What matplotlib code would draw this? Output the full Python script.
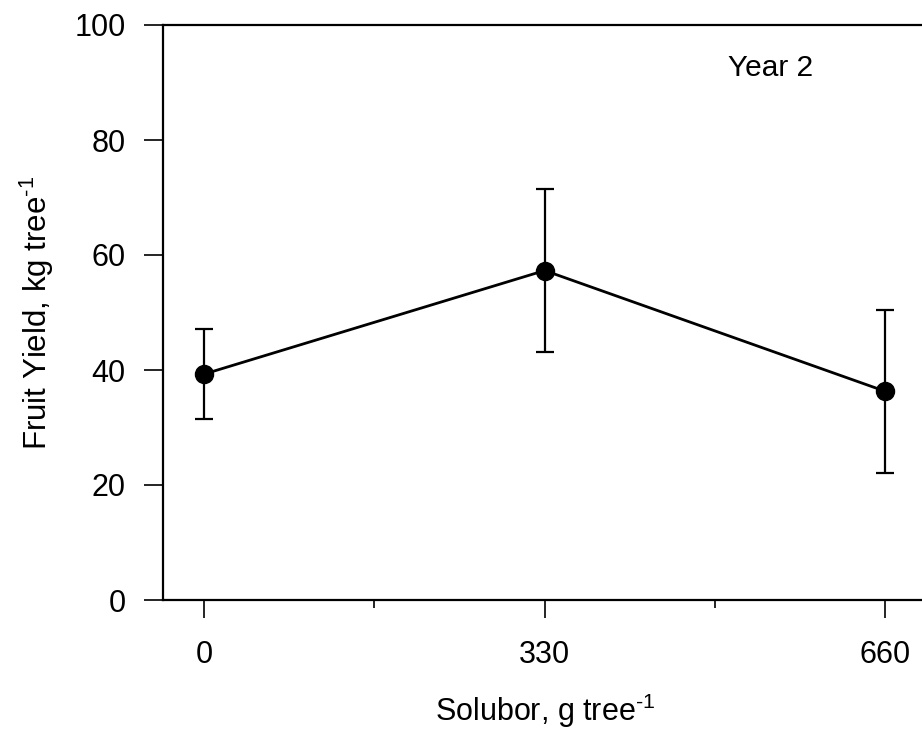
import matplotlib.pyplot as plt
import matplotlib.transforms as mtransforms

plt.rcParams['font.family'] = ['Liberation Sans', 'DejaVu Sans']
plt.rcParams['mathtext.fontset'] = 'custom'
plt.rcParams['mathtext.rm'] = 'Liberation Sans'
plt.rcParams['mathtext.it'] = 'Liberation Sans'
plt.rcParams['mathtext.default'] = 'regular'

# data
solubor = [0, 330, 660]
yield_mean = [39.3, 57.3, 36.3]
yield_err = [7.9, 14.1, 14.2]
major_ticks = [0, 330, 660]
minor_ticks = [165, 495]

fig = plt.figure(figsize=(9.22, 7.37), dpi=100)
# axes runs past the right edge, the reference is cropped there
ax = fig.add_axes([163 / 922, 137 / 737, 784 / 922, 575 / 737])

ax.errorbar(solubor, yield_mean, yerr=yield_err, color='black', lw=2.0,
            marker='o', markersize=13, capsize=6.5, capthick=1.6, elinewidth=1.6)

ax.set_xlim(-40, 720)
ax.set_ylim(0, 100)
ax.set_xticks(major_ticks)
ax.set_xticks(minor_ticks, minor=True)
ax.set_yticks([0, 20, 40, 60, 80, 100])

ax.tick_params(axis='x', which='major', direction='out', length=13, width=1.2,
               labelsize=22, pad=16)
ax.tick_params(axis='x', which='minor', direction='out', length=6, width=1.2)
ax.tick_params(axis='y', direction='out', length=14, width=1.2, labelsize=22, pad=13)

for side in ['left', 'bottom', 'top', 'right']:
    ax.spines[side].set_linewidth(1.6)

ax.set_xlabel(r'Solubor, g tree$^{\text{-}1}$', fontsize=22)
ax.xaxis.set_label_coords(330, -0.16,
                          transform=mtransforms.blended_transform_factory(ax.transData, ax.transAxes))
ax.set_ylabel(r'Fruit Yield, kg tree$^{\text{-}1}$', fontsize=22.5, labelpad=13)

ax.text(508, 92.5, 'Year 2', fontsize=21.5, va='center', ha='left')

fig.savefig('out.png', dpi=100)
